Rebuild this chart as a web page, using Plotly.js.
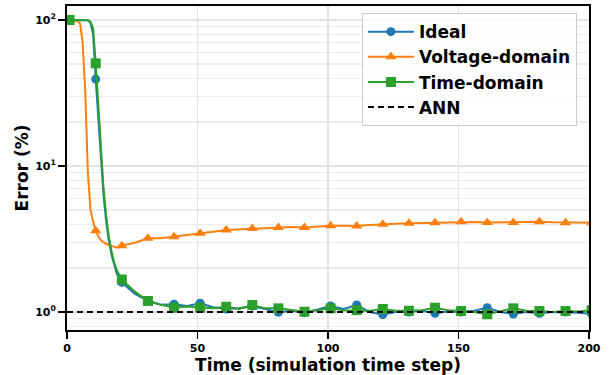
<!DOCTYPE html>
<html>
<head>
<meta charset="utf-8">
<script src="https://cdn.plot.ly/plotly-3.0.1.min.js"></script>
<style>html,body{margin:0;padding:0;background:#fff;}#chart{width:613px;height:375px;}</style>
</head>
<body>
<div id="chart"></div>
<script>
// time steps at which the curves were read
const steps = [1,2,3,4,5,6,7,8,9,10,11,12,13,14,15,16,17,18,19,20,21,26,31,36,41,46,51,56,61,66,71,76,81,86,91,96,101,106,111,116,121,126,131,136,141,146,151,156,161,166,171,176,181,186,191,196,201];
const idealErr = [100,100,100,100,100,100,100,99.5,96,80,39.4,21,11,6.3,4.2,3.1,2.5,2.1,1.85,1.7,1.6,
  1.33,1.2,1.12,1.13,1.1,1.15,1.08,1.05,1.06,1.1,1.05,0.995,1.02,0.99,1.04,1.1,1.05,1.117,1.0,0.96,1.0,1.0,1.02,0.98,1.01,1.0,1.02,1.07,1.0,0.97,1.0,0.98,1.0,1.0,0.99,0.97];
const voltageErr = [100,100,100,98,95,70,32,9,5.0,4.15,3.6,3.3,3.1,3.0,2.92,2.88,2.84,2.8,2.77,2.78,2.85,
  2.98,3.2,3.2,3.28,3.35,3.46,3.55,3.65,3.68,3.74,3.78,3.80,3.82,3.80,3.85,3.9,3.9,3.88,3.95,4.0,4.02,4.05,4.07,4.09,4.12,4.15,4.13,4.1,4.12,4.1,4.13,4.15,4.12,4.09,4.1,4.09];
const timeErr = [100,100,100,100,100,100,100,99.5,97,88,50.5,26,12.5,7,4.6,3.3,2.65,2.2,1.95,1.78,1.67,
  1.38,1.19,1.12,1.07,1.09,1.07,1.06,1.087,1.05,1.117,1.06,1.06,1.03,1.005,1.03,1.06,1.03,1.03,1.02,1.05,1.02,1.02,1.03,1.07,1.03,1.016,1.0,0.965,1.01,1.06,1.02,1.016,1.0,1.016,1.01,1.03];
const annX = [0, 200];
const annErr = [1, 1];
const seriesNames = ['Ideal', 'Voltage-domain', 'Time-domain', 'ANN'];
const xTickVals = [0, 50, 100, 150, 200];
const yTickVals = [1, 10, 100];
const yTickText = ['10<sup>0</sup>', '10<sup>1</sup>', '10<sup>2</sup>'];

const colors = ['#1f77b4', '#ff7f0e', '#2ca02c'];
const symbols = ['circle', 'triangle-up', 'square'];
const msizes = [9, 10, 10];

// minor log gridlines: 2..9 x each decade
const minorVals = [];
[0.1, 1, 10, 100].forEach(d => { for (let m = 2; m <= 9; m++) minorVals.push(+(m * d).toPrecision(3)); });

// marker every 10 steps (with gaps so no line joins them)
function markerSeries(vals) {
  const mx = [], my = [];
  steps.forEach((s, i) => {
    if ((s - 1) % 10 === 0) {
      if (mx.length) { mx.push(null); my.push(null); }
      mx.push(s); my.push(vals[i]);
    }
  });
  return {mx, my};
}

const traces = [];
[idealErr, voltageErr, timeErr].forEach((vals, k) => {
  traces.push({
    x: steps, y: vals, mode: 'lines', type: 'scatter', showlegend: false,
    legendgroup: 'g' + k, line: {color: colors[k], width: 2}, hoverinfo: 'skip'
  });
  const m = markerSeries(vals);
  traces.push({
    x: m.mx, y: m.my, mode: 'lines+markers', type: 'scatter', name: seriesNames[k],
    legendgroup: 'g' + k, connectgaps: false,
    line: {color: colors[k], width: 2},
    marker: {symbol: symbols[k], size: msizes[k], color: colors[k]}
  });
});
traces.push({
  x: annX, y: annErr, mode: 'lines', type: 'scatter', name: seriesNames[3], legendgroup: 'g3',
  line: {color: '#000', width: 2, dash: '6px,4px'}
});

const boldFont = (s) => ({family: 'DejaVu Sans', size: s, color: '#000', weight: 'bold'});

const layout = {
  width: 613, height: 375,
  margin: {l: 67, r: 24, t: 6, b: 45, pad: 0},
  paper_bgcolor: '#fff', plot_bgcolor: '#fff',
  font: {family: 'DejaVu Sans', color: '#000'},
  showlegend: true,
  legend: {
    x: 0.565, y: 0.978, xanchor: 'left', yanchor: 'top',
    bgcolor: 'rgba(255,255,255,0.85)', bordercolor: '#cccccc', borderwidth: 1,
    font: boldFont(17), itemwidth: 46, traceorder: 'grouped', tracegroupgap: 0
  },
  xaxis: {
    range: [0, 200], tickmode: 'array', tickvals: xTickVals,
    ticks: 'outside', ticklen: 7, tickwidth: 1.5, tickcolor: '#000',
    showline: true, mirror: true, linecolor: '#000', linewidth: 2,
    showgrid: true, gridcolor: '#e3e3e3', gridwidth: 1.2, zeroline: false,
    tickfont: boldFont(11),
    title: {text: 'Time (simulation time step)', font: boldFont(17), standoff: 4}
  },
  yaxis: {
    type: 'log', range: [-0.123, 2.096],
    tickmode: 'array', tickvals: yTickVals, ticktext: yTickText,
    ticks: 'outside', ticklen: 7, tickwidth: 1.5, tickcolor: '#000',
    showline: true, mirror: true, linecolor: '#000', linewidth: 2,
    showgrid: true, gridcolor: '#e3e3e3', gridwidth: 1.2, zeroline: false,
    minor: {tickmode: 'array', tickvals: minorVals, showgrid: true, gridcolor: '#ececec', gridwidth: 1.2, ticks: ''},
    tickfont: boldFont(11),
    title: {text: 'Error (%)', font: boldFont(17), standoff: 2}
  }
};

Plotly.newPlot('chart', traces, layout, {staticPlot: true, displayModeBar: false});
</script>
</body>
</html>
